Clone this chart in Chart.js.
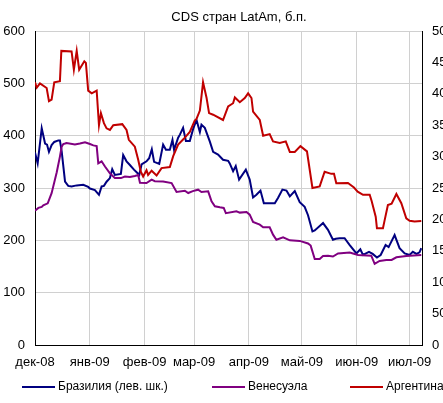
<!DOCTYPE html>
<html>
<head>
<meta charset="utf-8">
<script src="https://cdn.jsdelivr.net/npm/chart.js@4/dist/chart.umd.min.js"></script>
<style>
  body { margin: 0; background: #fff; }
  canvas { display: block; }
</style>
</head>
<body>
<canvas id="cdsChart" width="443" height="403"></canvas>
<script>
const chartTitle = 'CDS стран LatAm, б.п.';

// x = days since 1 Dec 2008
const monthTickDays = [0, 31, 62, 90, 121, 151, 182, 212];
const monthLabels = ['дек-08', 'янв-09', 'фев-09', 'мар-09', 'апр-09', 'май-09', 'июн-09', 'июл-09'];

const brazilDays = [0, 1.5, 3.8, 5.7, 6.8, 7.9, 9.4, 10.9, 13.2, 14.1, 15.1, 17, 18.8, 20.7, 23.6, 27.3, 30.1, 31.1, 33.9, 36.2,
  37.7, 39, 40.5, 42.4, 43.7, 45.2, 48.6, 49.9, 51.8, 53.7, 56, 57.8, 59, 60.3, 63.1, 64.6, 66.1, 67.4, 70.3, 72.5,
  74.1, 76.3, 77.8, 78.7, 81, 82, 83.8, 85.4, 87.6, 89.5, 91.4, 93.3, 94.2, 96.1, 98.9, 100.8, 103.6, 106.4, 109.3, 110.2,
  112.1, 113.6, 115.5, 119.3, 121.5, 123.4, 125.3, 127.6, 129.5, 133.8, 135.7, 137.5, 140, 142.3, 144.2, 147, 149.8, 152.6, 154.5, 157,
  158.3, 163, 165.8, 168.6, 170.2, 172.4, 175.2, 178.1, 181.9, 184.1, 185.6, 189, 191.1, 193.5, 195.6, 198.4, 200.1, 203.5, 206.3, 209.2,
  212, 213.8, 215.9, 217.6, 218.6];
const brazilCds = [368, 347, 414, 385, 383, 369, 382, 388, 391, 391, 370, 312, 304, 303, 305, 306, 302, 299, 296, 287,
  303, 304, 312, 319, 336, 325, 327, 363, 351, 344, 335, 329, 325, 345, 351, 357, 374, 350, 346, 383,
  373, 373, 392, 373, 396, 402, 415, 390, 390, 413, 430, 407, 421, 415, 389, 369, 364, 354, 352, 347,
  332, 342, 316, 335, 316, 282, 287, 295, 271, 271, 271, 281, 297, 295, 284, 294, 273, 264, 248, 217,
  219, 233, 220, 201, 203, 204, 204, 191, 175, 183, 172, 178, 174, 167, 172, 191, 187, 210, 185, 175,
  172, 178, 174, 177, 185];

const venezuelaDays = [0, 1.9, 3.8, 4.7, 7.2, 9.4, 12.3, 14.1, 15.1, 16, 17, 17.9, 22.6, 25.4, 28.3, 31.1, 33, 34.9, 35.8, 37.7,
  39.6, 42.4, 44.3, 45.2, 48.6, 50.9, 53.7, 56.5, 58.4, 59.4, 63.1, 66, 67.8, 72.5, 77.3, 80.1, 84.8, 86.7, 89.3, 92.3,
  94.2, 98, 99.9, 101.8, 104.6, 106.8, 108, 114, 115.9, 119.7, 121.5, 123.4, 127.2, 129.1, 132.8, 134.7, 136.6, 140.4, 144.2, 149.8,
  154.5, 156, 158.3, 161.1, 163, 165.8, 168.6, 171.5, 178.1, 182.8, 190.3, 192.2, 195, 198.8, 201.8, 204.5, 210.1, 218.6];
const venezuelaCds = [2138, 2183, 2200, 2225, 2256, 2417, 2750, 3000, 3158, 3200, 3208, 3217, 3192, 3208, 3229, 3200, 3179, 3167, 2892, 2925,
  2842, 2733, 2683, 2658, 2658, 2683, 2675, 2692, 2708, 2583, 2579, 2633, 2608, 2605, 2579, 2437, 2457, 2420, 2450, 2473,
  2437, 2447, 2288, 2208, 2192, 2183, 2100, 2128, 2108, 2117, 2075, 1958, 1917, 1875, 1875, 1757, 1675, 1714, 1667, 1658,
  1617, 1583, 1370, 1370, 1417, 1421, 1408, 1458, 1471, 1433, 1422, 1292, 1338, 1354, 1354, 1397, 1417, 1433];

const argentinaDays = [0, 1, 2.8, 6.6, 7.9, 9.4, 10.9, 14.1, 14.9, 20.7, 22, 23.6, 25, 27.9, 28.8, 30.1, 32.1, 34.9, 36.2, 37.3,
  39, 40.5, 42.4, 44.3, 49.4, 51.8, 53.1, 56.5, 58.4, 59.9, 61.2, 63.1, 64, 66, 68.8, 71.6, 76.3, 78.2, 81, 84.2,
  87.6, 90.4, 91.4, 93.3, 95.1, 97.1, 98.5, 100.8, 106.4, 109.3, 112.1, 113.1, 115.9, 118.7, 120.6, 122.5, 123.4, 127.2, 129.1, 132.8,
  134.7, 138.5, 141.9, 144.2, 147, 150.2, 153.9, 157, 161.1, 163.9, 167.7, 169.2, 170.5, 177.1, 180.5, 182.6, 185.6, 189.4, 190.5, 192.8,
  193.5, 196.9, 197.9, 199.7, 201.8, 204.5, 207.3, 210.1, 212, 214.8, 218.6];
const argentinaCds = [4183, 4100, 4167, 4092, 3883, 3908, 4183, 4200, 4683, 4675, 4383, 4683, 4383, 4517, 4492, 4050, 4008, 4050, 3500, 3692,
  3533, 3450, 3425, 3500, 3517, 3425, 3267, 3158, 2950, 2758, 2683, 2783, 2708, 2775, 2700, 2817, 2833, 3008, 3192, 3283,
  3392, 3575, 3600, 3733, 4183, 3933, 3692, 3667, 3583, 3800, 3850, 3942, 3867, 3933, 4008, 3933, 3717, 3583, 3333, 3358,
  3242, 3217, 3242, 3075, 3075, 3167, 3083, 2500, 2525, 2758, 2725, 2725, 2575, 2579, 2508, 2442, 2392, 2392, 2292, 2042,
  1858, 1858, 1992, 2229, 2250, 2404, 2258, 2017, 1979, 1967, 1975];

const seriesLabels = ['Бразилия (лев. шк.)', 'Венесуэла', 'Аргентина'];

function toPoints(days, values) {
  return days.map((d, i) => ({ x: d, y: values[i] }));
}

Chart.defaults.font.family = '"Liberation Sans", Arial, sans-serif';
Chart.defaults.color = '#000';

// Excel-like title and legend, placed where the original had them
const excelText = {
  id: 'excelText',
  afterDraw(chart) {
    const ctx = chart.ctx;
    ctx.save();
    ctx.fillStyle = '#000';
    ctx.textBaseline = 'middle';
    ctx.font = '13px "Liberation Sans", Arial, sans-serif';
    ctx.textAlign = 'center';
    ctx.fillText(chartTitle, 239, 17);

    const legendX = [22, 212, 350];
    ctx.font = '12px "Liberation Sans", Arial, sans-serif';
    ctx.textAlign = 'left';
    chart.data.datasets.forEach((ds, i) => {
      const x = legendX[i], y = 387;
      ctx.strokeStyle = ds.borderColor;
      ctx.lineWidth = 2;
      ctx.beginPath();
      ctx.moveTo(x, y);
      ctx.lineTo(x + 33, y);
      ctx.stroke();
      ctx.fillText(ds.label, x + 36, y);
    });
    ctx.restore();
  }
};

const ctx = document.getElementById('cdsChart').getContext('2d');
new Chart(ctx, {
  type: 'line',
  data: {
    datasets: [{
      label: seriesLabels[0],
      data: toPoints(brazilDays, brazilCds),
      yAxisID: 'y',
      borderColor: '#000080',
      order: 2
    }, {
      label: seriesLabels[1],
      data: toPoints(venezuelaDays, venezuelaCds),
      yAxisID: 'y1',
      borderColor: '#800080',
      order: 1
    }, {
      label: seriesLabels[2],
      data: toPoints(argentinaDays, argentinaCds),
      yAxisID: 'y1',
      borderColor: '#c00000',
      order: 0
    }]
  },
  options: {
    responsive: false,
    animation: false,
    elements: {
      point: { radius: 0 },
      line: { borderWidth: 2, tension: 0, fill: false }
    },
    layout: { padding: { top: 31, left: 0, right: 0, bottom: 0 } },
    plugins: {
      legend: { display: false },
      title: { display: false },
      tooltip: { enabled: false }
    },
    scales: {
      x: {
        type: 'linear',
        min: 0,
        max: 219,
        afterBuildTicks: (s) => { s.ticks = monthTickDays.map(v => ({ value: v })); },
        afterFit: (s) => { s.height = 58; },
        ticks: {
          autoSkip: false,
          maxRotation: 0,
          padding: 10,
          font: { size: 13 },
          callback: (v) => monthLabels[monthTickDays.indexOf(v)]
        },
        grid: { color: '#d0d0d0', drawTicks: false },
        border: { color: '#000', width: 1 }
      },
      y: {
        position: 'left',
        min: 0,
        max: 600,
        afterFit: (s) => { s.width = 35; },
        ticks: { stepSize: 100, padding: 10, font: { size: 13 }, callback: (v) => String(v) },
        grid: { color: '#d0d0d0', drawTicks: false },
        border: { color: '#000', width: 1 }
      },
      y1: {
        position: 'right',
        min: 0,
        max: 5000,
        afterFit: (s) => { s.width = 21; },
        ticks: { stepSize: 500, padding: 10, font: { size: 13 }, callback: (v) => String(v) },
        grid: { drawOnChartArea: false, drawTicks: false },
        border: { color: '#000', width: 1 }
      }
    }
  },
  plugins: [excelText]
});
</script>
</body>
</html>
